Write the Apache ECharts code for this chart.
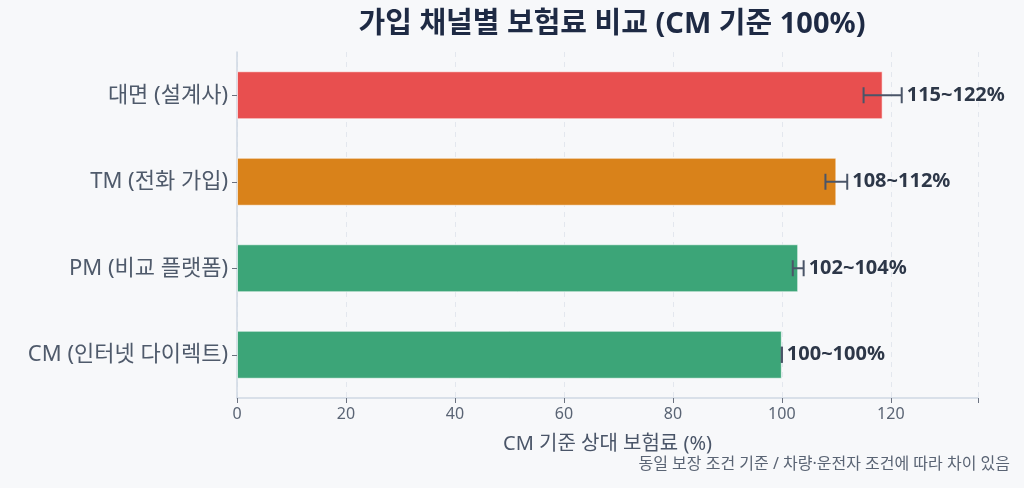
<!DOCTYPE html>
<html>
<head>
<meta charset="utf-8">
<script src="https://cdn.jsdelivr.net/npm/echarts@6/dist/echarts.min.js"></script>
<style>
  html, body { margin: 0; padding: 0; background: #f7f8fa; }
  #chart { width: 1024px; height: 488px; }
</style>
</head>
<body>
<div id="chart"></div>
<script>
(function() {
    var myChart = echarts.init(document.getElementById('chart'));

    // 아래에서 위로: CM, PM, TM, 대면
    var channels = ['CM (인터넷 다이렉트)', 'PM (비교 플랫폼)', 'TM (전화 가입)', '대면 (설계사)'];
    var midValues = [100, 103, 110, 118.5];
    var lowValues = [100, 102, 108, 115];
    var highValues = [100, 104, 112, 122];
    var barColors = ['#3ca578', '#3ca578', '#d9821a', '#e84f4f'];

    var font = "'Noto Sans', 'Noto Sans CJK KR', sans-serif";

    var errData = channels.map(function(c, i) {
        return [i, lowValues[i], highValues[i]];
    });

    var option = {
        backgroundColor: '#f7f8fa',
        textStyle: { fontFamily: font },
        title: {
            text: '가입 채널별 보험료 비교 (CM 기준 100%)',
            left: 607, top: 5, textAlign: 'center',
            textStyle: { fontSize: 29, fontWeight: 'bold', color: '#1e2a44', fontFamily: font }
        },
        grid: { left: 237, right: 46, top: 52, bottom: 90, containLabel: false },
        xAxis: {
            type: 'value',
            min: 0, max: 136, interval: 20,
            name: 'CM 기준 상대 보험료 (%)',
            nameLocation: 'middle', nameGap: 36,
            nameTextStyle: { fontSize: 20, color: '#4a5568', fontFamily: font },
            axisLine: { show: true, lineStyle: { color: '#cfd8e3', width: 1.5 } },
            axisTick: { show: true, length: 5, lineStyle: { color: '#6b7280' } },
            axisLabel: { fontSize: 16, color: '#5a6474', margin: 8,
                formatter: function(v) { return v % 20 === 0 ? v : ''; } },
            splitLine: { show: true, lineStyle: { color: '#e3e7ee', type: [5, 5] } }
        },
        yAxis: {
            type: 'category',
            data: channels,
            axisLine: { show: true, lineStyle: { color: '#cfd8e3', width: 1.5 } },
            axisTick: { show: true, length: 5, alignWithLabel: true, lineStyle: { color: '#6b7280' } },
            axisLabel: { fontSize: 22, color: '#4f5a6b', margin: 9 },
            splitLine: { show: false }
        },
        series: [{
            name: '보험료',
            type: 'bar',
            barWidth: 48,
            data: midValues.map(function(v, i) {
                return { value: v, itemStyle: { color: barColors[i] } };
            }),
            itemStyle: { borderColor: 'rgba(255,255,255,0.6)', borderWidth: 1 },
            z: 2
        }, {
            name: '범위',
            type: 'custom',
            data: errData,
            encode: { x: [1, 2], y: 0 },
            z: 5,
            renderItem: function(params, api) {
                var idx = api.value(0);
                var lo = api.value(1), hi = api.value(2);
                var p1 = api.coord([lo, idx]);
                var p2 = api.coord([hi, idx]);
                var cap = 8;
                var stroke = { stroke: '#4a5568', lineWidth: 2 };
                return {
                    type: 'group',
                    children: [
                        { type: 'line', shape: { x1: p1[0], y1: p1[1], x2: p2[0], y2: p2[1] }, style: stroke },
                        { type: 'line', shape: { x1: p1[0], y1: p1[1] - cap, x2: p1[0], y2: p1[1] + cap }, style: stroke },
                        { type: 'line', shape: { x1: p2[0], y1: p2[1] - cap, x2: p2[0], y2: p2[1] + cap }, style: stroke },
                        { type: 'text', style: {
                            x: p2[0] + 5, y: p1[1],
                            text: lo + '~' + hi + '%',
                            fill: '#2d3748',
                            font: 'bold 20px ' + font,
                            verticalAlign: 'middle', align: 'left'
                        } }
                    ]
                };
            }
        }],
        graphic: [{
            type: 'text',
            right: 14, top: 456,
            style: {
                text: '동일 보장 조건 기준 / 차량·운전자 조건에 따라 차이 있음',
                fill: '#5a6474',
                font: '16px ' + font
            }
        }]
    };

    myChart.setOption(option);
    window.addEventListener('resize', function() {
        myChart.resize();
    });
})();
</script>
</body>
</html>
